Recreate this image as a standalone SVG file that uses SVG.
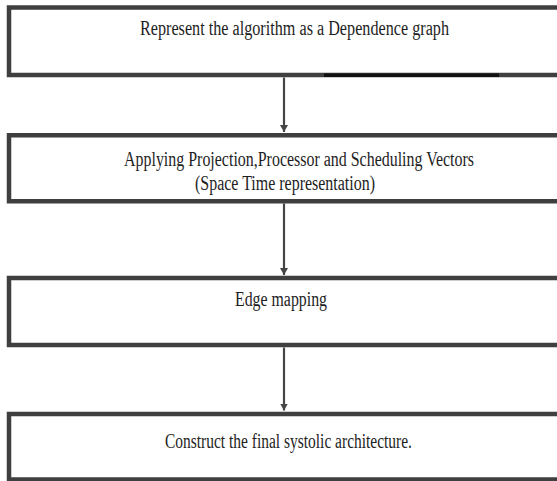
<svg xmlns="http://www.w3.org/2000/svg" width="557" height="481" viewBox="0 0 557 481">
  <style>
    .box { fill: #ffffff; stroke: #3f3f3f; stroke-width: 4.5; stroke-linejoin: miter; }
    .label { font-family: "Liberation Serif", "Times New Roman", serif; font-size: 14.5px; fill: #1e1e1e; }
    .flow { stroke: #454545; stroke-width: 2.2; fill: none; }
  </style>
  <defs>
    <marker id="head" markerUnits="userSpaceOnUse" markerWidth="8" markerHeight="10" refX="7" refY="4" orient="auto">
      <path d="M0,0 L7,4 L0,8 Z" fill="#454545"/>
    </marker>
  </defs>
  <rect width="557" height="481" fill="#ffffff"/>

  <!-- boxes run off the right edge, so they are drawn open on that side;
       labels use a tall, narrow face: small size stretched vertically -->
  <g id="step-dependence-graph">
    <path class="box" d="M557,7.5 H9 V75 H557"/>
    <line x1="324" y1="75.3" x2="499" y2="75.3" stroke="#111111" stroke-width="3.5"/>
    <g transform="translate(0,35) scale(1,1.38)">
      <text class="label" x="140" y="0" textLength="309" lengthAdjust="spacingAndGlyphs">Represent the algorithm as a  Dependence graph</text>
    </g>
  </g>

  <g id="step-projection">
    <path class="box" d="M557,135.3 H9 V201.3 H557"/>
    <g transform="translate(0,165.5) scale(1,1.38)">
      <text class="label" x="124" y="0" textLength="350" lengthAdjust="spacingAndGlyphs">Applying Projection,Processor and Scheduling Vectors</text>
    </g>
    <g transform="translate(0,190) scale(1,1.38)">
      <text class="label" x="195" y="0" textLength="180" lengthAdjust="spacingAndGlyphs">(Space Time representation)</text>
    </g>
  </g>

  <g id="step-edge-mapping">
    <path class="box" d="M557,278 H9 V345 H557"/>
    <g transform="translate(0,306) scale(1,1.38)">
      <text class="label" x="235" y="0" textLength="92" lengthAdjust="spacingAndGlyphs">Edge mapping</text>
    </g>
  </g>

  <g id="step-systolic">
    <path class="box" d="M557,414 H9 V479.5 H557"/>
    <g transform="translate(0,448) scale(1,1.38)">
      <text class="label" x="165" y="0" textLength="247" lengthAdjust="spacingAndGlyphs">Construct the final systolic architecture.</text>
    </g>
  </g>

  <g id="connectors">
    <line class="flow" x1="284" y1="77.5" x2="284" y2="132" marker-end="url(#head)"/>
    <line class="flow" x1="284" y1="203.5" x2="284" y2="275" marker-end="url(#head)"/>
    <line class="flow" x1="284" y1="347.5" x2="284" y2="410.5" marker-end="url(#head)"/>
  </g>
</svg>
